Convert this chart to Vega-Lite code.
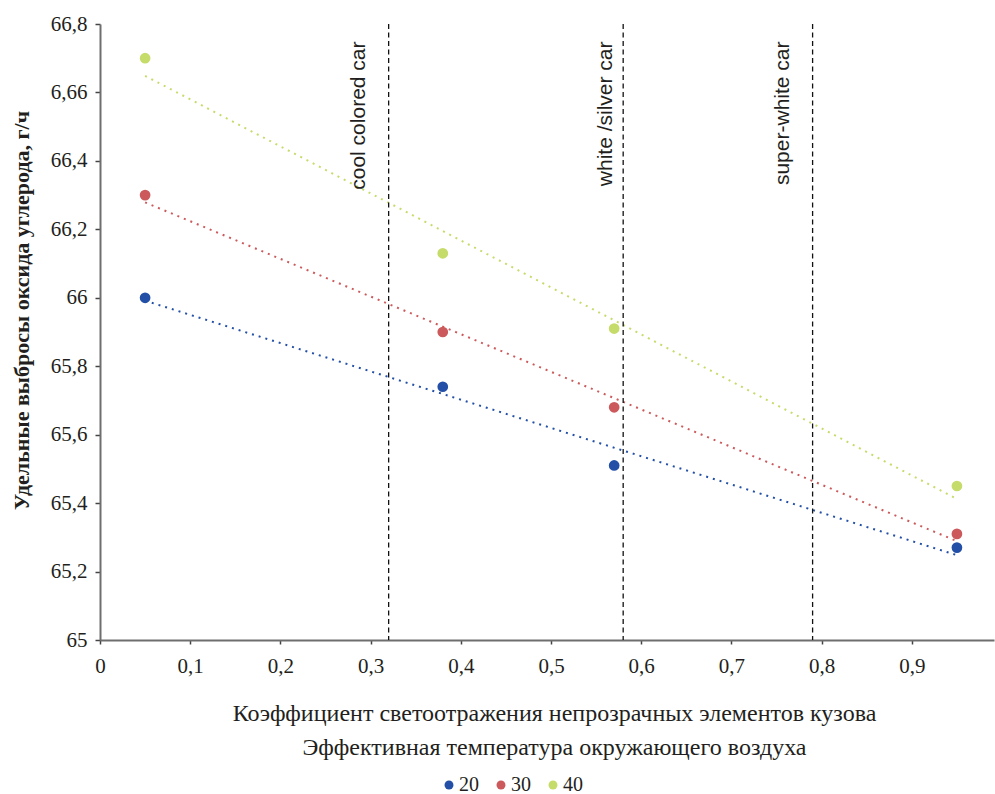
{
  "$schema": "https://vega.github.io/schema/vega-lite/v6.json",
  "width": 894,
  "height": 616,
  "autosize": {"type": "none"},
  "padding": {"left": 100, "top": 24, "right": 1, "bottom": 154},
  "background": "white",
  "config": {"view": {"stroke": null}, "axis": {"grid": false}},
  "datasets": {
    "points": [
      {"series": "20", "x": 0.05, "y": 66.00},
      {"series": "20", "x": 0.38, "y": 65.74},
      {"series": "20", "x": 0.57, "y": 65.51},
      {"series": "20", "x": 0.95, "y": 65.27},
      {"series": "30", "x": 0.05, "y": 66.30},
      {"series": "30", "x": 0.38, "y": 65.90},
      {"series": "30", "x": 0.57, "y": 65.68},
      {"series": "30", "x": 0.95, "y": 65.31},
      {"series": "40", "x": 0.05, "y": 66.70},
      {"series": "40", "x": 0.38, "y": 66.13},
      {"series": "40", "x": 0.57, "y": 65.91},
      {"series": "40", "x": 0.95, "y": 65.45}
    ],
    "markers": [
      {"x": 0.32, "label": "cool colored car"},
      {"x": 0.58, "label": "white /silver car"},
      {"x": 0.79, "label": "super-white car"}
    ]
  },
  "layer": [
    {
      "data": {"name": "points"},
      "mark": {"type": "circle", "size": 115, "opacity": 1},
      "encoding": {
        "x": {
          "field": "x", "type": "quantitative",
          "scale": {"domain": [0, 0.9911], "nice": false, "zero": false},
          "axis": {
            "values": [0, 0.1, 0.2, 0.3, 0.4, 0.5, 0.6, 0.7, 0.8, 0.9, 1],
            "labelExpr": "replace(format(datum.value, '.1~f'), '.', ',')",
            "labelFont": "Liberation Serif, Times New Roman, serif", "labelFontSize": 21, "labelColor": "#231f20",
            "labelPadding": 11, "labelFlush": false, "labelOverlap": false,
            "tickSize": 4, "tickColor": "#444444", "tickWidth": 1.5,
            "domainColor": "#6e6e6e", "domainWidth": 2,
            "title": ["Коэффициент светоотражения непрозрачных элементов кузова", "Эффективная температура окружающего воздуха"],
            "titleFont": "Liberation Serif, Times New Roman, serif", "titleFontSize": 24, "titleFontWeight": "normal", "titleColor": "#231f20",
            "titleX": 454, "titleY": 80, "titleBaseline": "alphabetic", "titleAlign": "center", "titleLineHeight": 34
          }
        },
        "y": {
          "field": "y", "type": "quantitative",
          "scale": {"domain": [65, 66.8], "nice": false, "zero": false},
          "axis": {
            "values": [65, 65.2, 65.4, 65.6, 65.8, 66, 66.2, 66.4, 66.6, 66.8],
            "labelExpr": "abs(datum.value - 66.6) < 0.01 ? '6,66' : replace(format(datum.value, '.1~f'), '.', ',')",
            "labelFont": "Liberation Serif, Times New Roman, serif", "labelFontSize": 21, "labelColor": "#231f20",
            "labelPadding": 8, "labelOverlap": false, "labelFlush": false,
            "tickSize": 5, "tickColor": "#444444", "tickWidth": 1.5,
            "domainColor": "#6e6e6e", "domainWidth": 2,
            "title": "Удельные выбросы оксида углерода, г/ч",
            "titleFont": "Liberation Serif, Times New Roman, serif", "titleFontSize": 22, "titleFontWeight": "bold", "titleColor": "#231f20",
            "titleAngle": -90, "titleX": -72, "titleY": 286, "titleBaseline": "alphabetic", "titleAlign": "center"
          }
        },
        "color": {
          "field": "series", "type": "nominal",
          "scale": {"domain": ["20", "30", "40"], "range": ["#2350a6", "#cc5a5c", "#c5dc6a"]},
          "legend": {
            "title": null, "orient": "none", "legendX": 339, "legendY": 751, "direction": "horizontal",
            "symbolType": "circle", "symbolSize": 80, "symbolStrokeWidth": 0,
            "labelFont": "Liberation Serif, Times New Roman, serif", "labelFontSize": 20, "labelColor": "#231f20",
            "labelOffset": 0, "columnPadding": 12, "padding": 0
          }
        }
      }
    },
    {
      "data": {"name": "points"},
      "transform": [{"regression": "y", "on": "x", "groupby": ["series"], "extent": [0.05, 0.95]}],
      "mark": {"type": "line", "strokeDash": [2, 5], "strokeWidth": 2, "strokeCap": "butt"},
      "encoding": {
        "x": {"field": "x", "type": "quantitative"},
        "y": {"field": "y", "type": "quantitative"},
        "stroke": {
          "field": "series", "type": "nominal",
          "scale": {"domain": ["20", "30", "40"], "range": ["#2350a6", "#cc5a5c", "#c5dc6a"]},
          "legend": null
        }
      }
    },
    {
      "mark": {"type": "rule", "color": "#6e6e6e", "strokeWidth": 1.5},
      "encoding": {"y": {"datum": 66.8}}
    },
    {
      "data": {"name": "markers"},
      "mark": {"type": "rule", "color": "#111111", "strokeDash": [5, 3.5], "strokeWidth": 1.3},
      "encoding": {"x": {"field": "x", "type": "quantitative"}}
    },
    {
      "data": {"name": "markers"},
      "transform": [{"filter": "datum.label != 'white /silver car'"}],
      "mark": {"type": "text", "angle": 270, "align": "right", "baseline": "alphabetic", "dx": -17.5, "dy": -24, "font": "Liberation Sans, Arial, sans-serif", "fontSize": 21, "color": "#231f20"},
      "encoding": {"x": {"field": "x", "type": "quantitative"}, "y": {"datum": 66.8}, "text": {"field": "label"}}
    },
    {
      "data": {"name": "markers"},
      "transform": [{"filter": "datum.label == 'white /silver car'"}],
      "mark": {"type": "text", "angle": 270, "align": "right", "baseline": "alphabetic", "dx": -17.5, "dy": -11, "font": "Liberation Sans, Arial, sans-serif", "fontSize": 21, "color": "#231f20"},
      "encoding": {"x": {"field": "x", "type": "quantitative"}, "y": {"datum": 66.8}, "text": {"field": "label"}}
    }
  ]
}
